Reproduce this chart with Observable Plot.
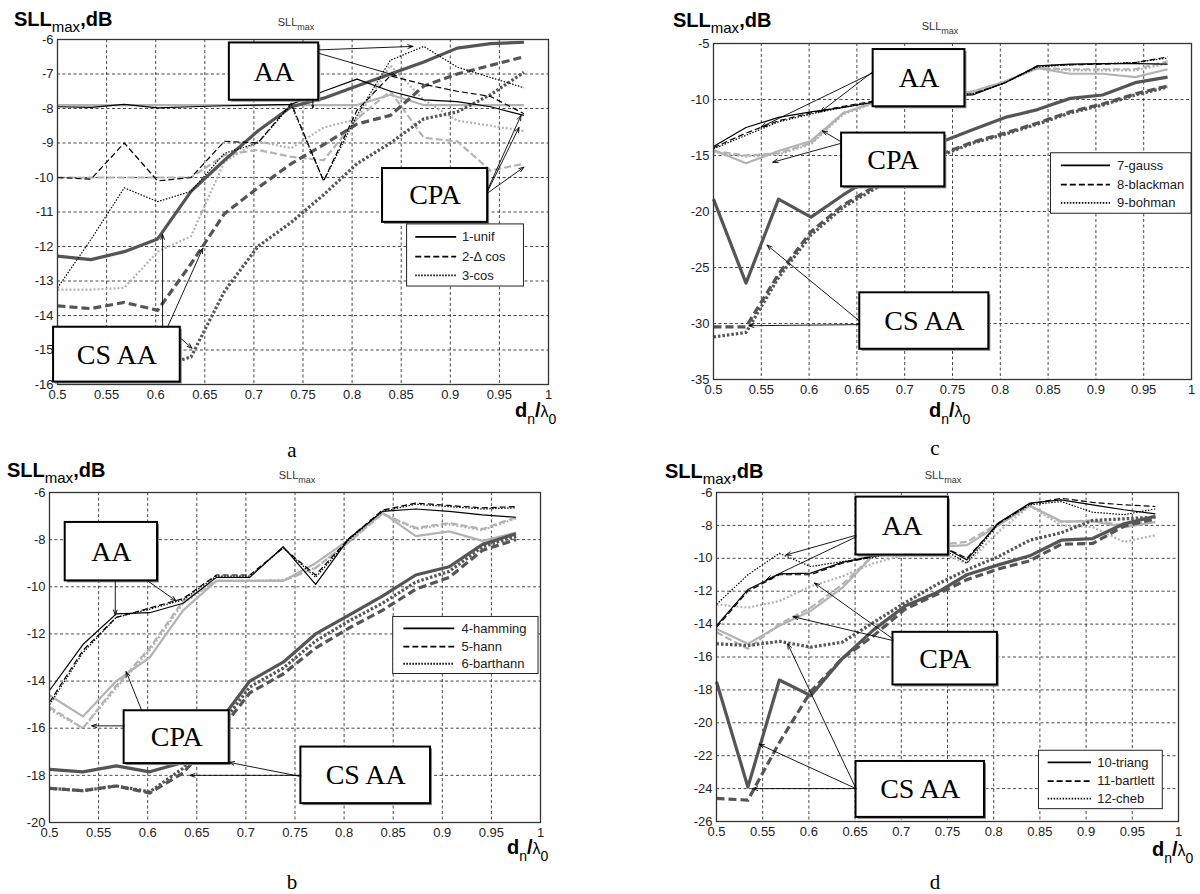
<!DOCTYPE html>
<html><head><meta charset="utf-8">
<script src="https://cdn.jsdelivr.net/npm/d3@7"></script>
<script src="https://cdn.jsdelivr.net/npm/@observablehq/plot@0.6"></script>
<style>
body{margin:0;background:#fff;}
#fig{position:relative;width:1200px;height:894px;overflow:hidden;font-family:Arial,"Liberation Sans",sans-serif;background:#fff;}
.pl{position:absolute;}
.ylab{position:absolute;font-weight:bold;font-size:20px;line-height:1;white-space:nowrap;color:#000;}
.ylab sub{font-weight:normal;font-size:15px;vertical-align:-6px;line-height:0;}
.ttl{position:absolute;font-size:11px;line-height:1;color:#333;transform:translateX(-50%);white-space:nowrap;}
.ttl sub{font-size:9px;vertical-align:-4px;line-height:0;}
.xlab{position:absolute;font-weight:bold;font-size:20px;line-height:1;white-space:nowrap;}
.xlab sub{font-weight:normal;font-size:14px;vertical-align:-7px;line-height:0;}
.xlab .lam{font-weight:normal;font-size:16px;}
.let{position:absolute;font-family:"Liberation Serif","Times New Roman",serif;font-size:21px;line-height:1;transform:translate(-50%,-50%);}
</style></head>
<body><div id="fig"></div>
<script>
// ---------- shared ----------
const X = [0.5,0.534,0.568,0.602,0.636,0.670,0.704,0.738,0.771,0.805,0.839,0.873,0.907,0.941,0.975];
const xTicks = [0.5,0.55,0.6,0.65,0.7,0.75,0.8,0.85,0.9,0.95,1];

// ---------- panel a ----------
const a_names = ["1-unif","2-\u0394 cos","3-cos"];
const a_yTicks = [-16,-15,-14,-13,-12,-11,-10,-9,-8,-7,-6];
const a_AA_1 = [-7.95,-7.97,-7.88,-7.98,-7.95,-7.92,-7.9,-7.88,-7.5,-7.15,-7.5,-7.75,-7.8,-7.95,-8.2];
const a_AA_2 = [-10.0,-10.05,-9.0,-10.1,-10.0,-8.95,-9.0,-7.85,-10.1,-8.05,-7.05,-7.3,-7.5,-7.65,-8.15];
const a_AA_3 = [-13.2,-11.8,-10.3,-10.7,-10.4,-9.3,-9.0,-7.9,-10.1,-8.2,-6.6,-6.2,-6.8,-7.1,-7.4];
const a_CPA_1 = [-7.9,-7.9,-7.9,-7.9,-7.9,-7.9,-7.9,-7.9,-7.9,-7.9,-7.6,-7.9,-7.9,-7.9,-7.9];
const a_CPA_2 = [-10.0,-10.0,-10.0,-10.0,-10.0,-9.35,-9.2,-9.4,-9.5,-8.3,-7.5,-8.85,-8.95,-9.8,-9.6];
const a_CPA_3 = [-13.25,-13.25,-13.2,-12.15,-11.7,-9.55,-8.95,-9.15,-8.55,-8.3,-6.75,-7.75,-8.35,-8.5,-8.65];
const a_CS_1 = [-12.28,-12.38,-12.15,-11.78,-10.4,-9.5,-8.65,-7.95,-7.7,-7.35,-7.0,-6.65,-6.25,-6.12,-6.08];
const a_CS_2 = [-13.72,-13.8,-13.62,-13.85,-12.5,-11.05,-10.3,-9.6,-9.05,-8.45,-8.2,-7.35,-7.0,-6.75,-6.5];
const a_CS_3 = [-15.6,-15.6,-15.5,-15.5,-15.2,-13.3,-12.0,-11.3,-10.5,-9.6,-9.0,-8.3,-8.1,-7.6,-6.95];
const a_boxLabels = ["AA","CPA","CS AA"];
const a_boxX1 = [0.675,0.831,0.496]; const a_boxX2 = [0.766,0.938,0.625];
const a_boxY1 = [-6.1,-9.74,-14.34]; const a_boxY2 = [-7.76,-11.3,-15.93];
const a_arrows = [[0.766,-6.3,0.862,-6.2],[0.766,-6.4,0.845,-7.05],[0.76,-7.76,0.76,-7.98],
  [0.938,-10.35,0.972,-8.2],[0.938,-10.4,0.97,-8.55],[0.938,-10.45,0.975,-9.7],
  [0.607,-14.34,0.607,-11.65],[0.612,-14.34,0.648,-12.05],[0.625,-14.65,0.637,-14.95]];
const a_legend = [0.856,0.975,-11.36,-13.16];

// ---------- panel c ----------
const c_names = ["7-gauss","8-blackman","9-bohman"];
const c_yTicks = [-35,-30,-25,-20,-15,-10,-5];
const c_AA_1 = [-14.2,-12.5,-11.6,-11.1,-10.7,-10.2,-9.9,-9.7,-9.6,-8.5,-7.0,-6.85,-6.8,-6.8,-6.85];
const c_AA_2 = [-14.3,-13.0,-11.9,-11.2,-10.6,-10.1,-9.8,-9.6,-9.5,-8.5,-7.0,-6.9,-6.85,-6.7,-6.2];
const c_AA_3 = [-14.4,-13.2,-12.0,-11.3,-10.7,-10.2,-9.8,-9.6,-9.5,-8.5,-7.1,-6.9,-6.8,-6.7,-6.3];
const c_CPA_1 = [-14.5,-15.7,-14.6,-13.7,-11.2,-10.2,-9.9,-9.6,-9.3,-8.4,-7.2,-7.7,-7.7,-8.0,-7.3];
const c_CPA_2 = [-14.6,-15.0,-14.8,-13.9,-11.2,-10.2,-9.9,-9.6,-9.3,-8.4,-7.2,-7.3,-7.3,-7.3,-6.6];
const c_CPA_3 = [-14.7,-15.1,-14.9,-14.0,-11.3,-10.3,-9.9,-9.6,-9.3,-8.4,-7.2,-7.4,-7.4,-7.4,-6.8];
const c_CS_1 = [-18.9,-26.4,-18.9,-20.5,-18.5,-16.7,-15.0,-13.8,-12.7,-11.6,-10.9,-9.9,-9.6,-8.5,-8.0];
const c_CS_2 = [-30.3,-30.3,-25.6,-21.8,-19.4,-17.7,-16.1,-14.9,-13.8,-13.0,-12.1,-11.1,-10.4,-9.5,-8.8];
const c_CS_3 = [-31.2,-30.8,-25.9,-22.1,-19.6,-17.9,-16.3,-15.0,-13.9,-13.1,-12.2,-11.2,-10.5,-9.6,-8.9];
const c_boxLabels = ["AA","CPA","CS AA"];
const c_boxX1 = [0.667,0.634,0.653]; const c_boxX2 = [0.763,0.742,0.788];
const c_boxY1 = [-5.54,-13.0,-27.26]; const c_boxY2 = [-10.65,-17.8,-32.3];
const c_arrows = [[0.667,-7.5,0.612,-11.1],[0.667,-7.6,0.55,-12.45],
  [0.634,-13.8,0.614,-12.8],[0.634,-13.9,0.562,-15.6],
  [0.653,-29.8,0.556,-23.0],[0.653,-30.1,0.537,-30.2]];
const c_legend = [0.853,1.0,-14.8,-20.2];

// ---------- panel b ----------
const b_names = ["4-hamming","5-hann","6-barthann"];
const b_yTicks = [-20,-18,-16,-14,-12,-10,-8,-6];
const b_AA_1 = [-14.4,-12.45,-11.15,-11.1,-10.7,-9.6,-9.6,-8.3,-9.9,-7.95,-6.8,-6.7,-6.8,-6.95,-7.05];
const b_AA_2 = [-14.9,-12.7,-11.3,-10.9,-10.5,-9.5,-9.5,-8.35,-9.5,-7.95,-6.75,-6.45,-6.55,-6.65,-6.6];
const b_AA_3 = [-15.0,-12.8,-11.3,-10.95,-10.55,-9.55,-9.55,-8.35,-9.6,-8.0,-6.8,-6.5,-6.6,-6.7,-6.65];
const b_CPA_1 = [-14.6,-15.5,-14.0,-13.0,-11.0,-9.75,-9.75,-9.75,-9.0,-8.0,-6.85,-7.85,-7.65,-8.05,-7.7];
const b_CPA_2 = [-15.1,-16.0,-14.2,-12.6,-10.6,-9.75,-9.75,-9.75,-9.2,-8.1,-6.9,-7.5,-7.3,-7.55,-7.05];
const b_CPA_3 = [-15.2,-16.0,-14.3,-12.7,-10.7,-9.75,-9.75,-9.7,-9.2,-8.1,-6.9,-7.55,-7.35,-7.6,-7.1];
const b_CS_1 = [-17.75,-17.85,-17.6,-17.85,-17.45,-15.9,-14.0,-13.2,-12.0,-11.2,-10.4,-9.5,-9.15,-8.2,-7.75];
const b_CS_2 = [-18.55,-18.65,-18.45,-18.75,-17.9,-16.3,-14.5,-13.7,-12.6,-11.75,-11.0,-10.1,-9.6,-8.45,-8.0];
const b_CS_3 = [-18.55,-18.65,-18.45,-18.7,-17.7,-16.1,-14.25,-13.45,-12.3,-11.45,-10.7,-9.8,-9.35,-8.3,-7.85];
const b_boxLabels = ["AA","CPA","CS AA"];
const b_boxX1 = [0.516,0.576,0.756]; const b_boxX2 = [0.61,0.683,0.888];
const b_boxY1 = [-7.27,-15.26,-16.8]; const b_boxY2 = [-9.75,-17.5,-19.2];
const b_arrows = [[0.567,-9.75,0.567,-11.2],[0.6,-9.75,0.629,-10.6],
  [0.594,-15.26,0.578,-13.6],[0.576,-15.9,0.543,-15.9],
  [0.756,-18.0,0.643,-18.0],[0.756,-18.05,0.683,-17.45]];
const b_legend = [0.85,0.998,-11.28,-13.7];

// ---------- panel d ----------
const d_names = ["10-triang","11-bartlett","12-cheb"];
const d_yTicks = [-26,-24,-22,-20,-18,-16,-14,-12,-10,-8,-6];
const d_AA_1 = [-14.1,-11.9,-10.95,-10.9,-10.25,-9.85,-9.5,-9.1,-10.1,-7.85,-6.65,-6.45,-6.75,-7.05,-7.3];
const d_AA_2 = [-14.2,-12.0,-11.0,-11.0,-10.3,-9.9,-9.5,-9.1,-10.0,-7.9,-6.7,-6.35,-6.6,-6.75,-6.85];
const d_AA_3 = [-12.8,-11.0,-9.7,-10.5,-10.2,-9.95,-9.5,-9.2,-10.3,-7.9,-6.75,-6.55,-7.2,-7.35,-7.0];
const d_CPA_1 = [-14.3,-15.2,-14.1,-13.2,-11.8,-9.8,-9.5,-9.3,-9.2,-8.0,-6.8,-7.75,-7.75,-8.1,-7.8];
const d_CPA_2 = [-14.5,-15.5,-14.0,-13.0,-11.6,-9.8,-9.5,-9.2,-9.0,-7.9,-6.8,-7.8,-7.7,-8.0,-7.7];
const d_CPA_3 = [-12.8,-13.0,-12.6,-11.7,-11.1,-10.3,-9.8,-9.6,-10.3,-8.4,-6.8,-8.0,-8.1,-9.0,-8.6];
const d_CS_1 = [-17.5,-23.9,-17.4,-18.35,-16.1,-14.35,-12.9,-12.1,-11.0,-10.4,-9.85,-8.9,-8.8,-7.9,-7.45];
const d_CS_2 = [-24.6,-24.7,-21.2,-18.1,-16.1,-14.7,-13.1,-12.2,-11.3,-10.65,-10.15,-9.15,-9.1,-8.05,-7.6];
const d_CS_3 = [-15.2,-15.3,-15.05,-15.4,-15.1,-13.9,-12.7,-11.6,-10.7,-9.9,-8.9,-8.45,-7.7,-7.6,-7.5];
const d_boxLabels = ["AA","CPA","CS AA"];
const d_boxX1 = [0.651,0.691,0.651]; const d_boxX2 = [0.751,0.804,0.79];
const d_boxY1 = [-6.28,-14.5,-22.35]; const d_boxY2 = [-9.8,-17.7,-25.75];
const d_arrows = [[0.651,-8.6,0.575,-9.8],[0.651,-8.7,0.554,-11.3],
  [0.691,-15.0,0.583,-13.55],[0.691,-14.9,0.606,-11.5],
  [0.651,-24.0,0.539,-24.0],[0.651,-24.0,0.546,-21.3],[0.651,-24.0,0.577,-15.2]];
const d_legend = [0.849,0.983,-21.7,-25.25];

// ---------- drawing ----------
const styles = {
  CPA: {stroke:"#b3b3b3", w:2.2, dash:["none","7,3","2,2"]},
  CS:  {stroke:"#555555", w:3.2, dash:["none","8,4","2.5,2"]},
  AA:  {stroke:"#000000", w:1.2, dash:["none","6,3","1.5,1.5"]}
};

function panel(p) {
  const marks = [
    Plot.gridX(xTicks.slice(1,-1), {stroke:"#111", strokeOpacity:0.85, strokeDasharray:"3,2.5", strokeWidth:0.9}),
    Plot.gridY(p.yTicks.slice(1,-1), {stroke:"#111", strokeOpacity:0.85, strokeDasharray:"3,2.5", strokeWidth:0.9})
  ];
  for (const kind of ["CPA","CS","AA"]) {
    p.series[kind].forEach((arr, i) => {
      const data = X.map((x, j) => ({x, y: arr[j]}));
      marks.push(Plot.line(data, {x:"x", y:"y", stroke: styles[kind].stroke, strokeWidth: styles[kind].w,
        strokeDasharray: styles[kind].dash[i], strokeLinejoin:"round", strokeLinecap:"butt"}));
    });
  }
  marks.push(Plot.frame({stroke:"#333", strokeWidth:1.3}));
  const boxes = p.boxLabels.map((label,i)=>({label, x1:p.boxX1[i], x2:p.boxX2[i], y1:p.boxY1[i], y2:p.boxY2[i]}));
  marks.push(Plot.rect(boxes, {x1:"x1", x2:"x2", y1:"y1", y2:"y2", fill:"#888", dx:2, dy:2}));
  marks.push(Plot.rect(boxes, {x1:"x1", x2:"x2", y1:"y1", y2:"y2", fill:"white", stroke:"black", strokeWidth:2}));
  marks.push(Plot.text(boxes, {x: d=>(d.x1+d.x2)/2, y: d=>(d.y1+d.y2)/2, text:"label",
    fontFamily:"Liberation Serif, Times New Roman, serif", fontSize:28, fill:"#000"}));
  marks.push(Plot.arrow(p.arrows, {x1:d=>d[0], y1:d=>d[1], x2:d=>d[2], y2:d=>d[3],
    stroke:"#000", strokeWidth:0.9, headLength:9, headAngle:40}));
  // legend
  const [lx1, lx2, ly1, ly2] = p.legend;
  const w = lx2 - lx1, h = ly1 - ly2;
  const rows = p.names.map((name,i)=>({name, i, y: ly1 - h*[0.2,0.52,0.82][i]}));
  marks.push(Plot.rect([0], {x1:lx1, x2:lx2, y1:ly1, y2:ly2, fill:"white", stroke:"#222", strokeWidth:1}));
  rows.forEach(r => {
    marks.push(Plot.link([r], {x1: lx1 + w*0.07, x2: lx1 + w*0.42, y1:"y", y2:"y", stroke:"#000",
      strokeWidth:1.8, strokeLinecap:"butt", strokeDasharray: ["none","6,3","1.5,1.5"][r.i]}));
  });
  marks.push(Plot.text(rows, {x: lx1 + w*0.47, y:"y", text:"name", textAnchor:"start",
    fontSize:13, fill:"#222", fontFamily:"Arial, Liberation Sans, sans-serif"}));

  return Plot.plot({
    width: p.width, height: p.height,
    marginLeft: p.m[0], marginRight: p.m[1], marginTop: p.m[2], marginBottom: p.m[3],
    style: {background:"transparent", fontFamily:"Arial, Liberation Sans, sans-serif", fontSize:"13px", color:"#222", overflow:"visible"},
    x: {domain:[0.5,1], ticks: xTicks, tickSize:0, tickPadding:5, label:null, tickFormat: d => String(+d.toFixed(2))},
    y: {domain:[p.yTicks[0], p.yTicks[p.yTicks.length-1]], ticks: p.yTicks, tickSize:0, tickPadding:4, label:null, tickFormat: d => String(d)},
    marks
  });
}

const fig = document.getElementById("fig");
const panels = [
  {id:"a", left:0, top:0, width:600, height:440, m:[57,52,39,56], yTicks:a_yTicks, names:a_names,
   series:{AA:[a_AA_1,a_AA_2,a_AA_3], CPA:[a_CPA_1,a_CPA_2,a_CPA_3], CS:[a_CS_1,a_CS_2,a_CS_3]},
   boxLabels:a_boxLabels, boxX1:a_boxX1, boxX2:a_boxX2, boxY1:a_boxY1, boxY2:a_boxY2, arrows:a_arrows, legend:a_legend,
   ylab:[14,9], ttl:[296,17], xlab:[515,400], letter:[292,450]},
  {id:"c", left:600, top:0, width:600, height:440, m:[113,9,43,61], yTicks:c_yTicks, names:c_names,
   series:{AA:[c_AA_1,c_AA_2,c_AA_3], CPA:[c_CPA_1,c_CPA_2,c_CPA_3], CS:[c_CS_1,c_CS_2,c_CS_3]},
   boxLabels:c_boxLabels, boxX1:c_boxX1, boxX2:c_boxX2, boxY1:c_boxY1, boxY2:c_boxY2, arrows:c_arrows, legend:c_legend,
   ylab:[673,10], ttl:[940,21], xlab:[929,400], letter:[935,448]},
  {id:"b", left:0, top:447, width:600, height:447, m:[49,60,45,72], yTicks:b_yTicks, names:b_names,
   series:{AA:[b_AA_1,b_AA_2,b_AA_3], CPA:[b_CPA_1,b_CPA_2,b_CPA_3], CS:[b_CS_1,b_CS_2,b_CS_3]},
   boxLabels:b_boxLabels, boxX1:b_boxX1, boxX2:b_boxX2, boxY1:b_boxY1, boxY2:b_boxY2, arrows:b_arrows, legend:b_legend,
   ylab:[7,460], ttl:[297,470], xlab:[507,837], letter:[292,882]},
  {id:"d", left:600, top:447, width:600, height:447, m:[116,22,45,73], yTicks:d_yTicks, names:d_names,
   series:{AA:[d_AA_1,d_AA_2,d_AA_3], CPA:[d_CPA_1,d_CPA_2,d_CPA_3], CS:[d_CS_1,d_CS_2,d_CS_3]},
   boxLabels:d_boxLabels, boxX1:d_boxX1, boxX2:d_boxX2, boxY1:d_boxY1, boxY2:d_boxY2, arrows:d_arrows, legend:d_legend,
   ylab:[665,461], ttl:[943,470], xlab:[1152,839], letter:[935,882]}
];

for (const p of panels) {
  const wrap = document.createElement("div");
  wrap.className = "pl";
  wrap.style.left = p.left + "px"; wrap.style.top = p.top + "px";
  wrap.appendChild(panel(p));
  fig.appendChild(wrap);

  const yl = document.createElement("div");
  yl.className = "ylab"; yl.style.left = p.ylab[0]+"px"; yl.style.top = p.ylab[1]+"px";
  yl.innerHTML = "SLL<sub>max</sub>,dB";
  fig.appendChild(yl);

  const tt = document.createElement("div");
  tt.className = "ttl"; tt.style.left = p.ttl[0]+"px"; tt.style.top = p.ttl[1]+"px";
  tt.innerHTML = "SLL<sub>max</sub>";
  fig.appendChild(tt);

  const xl = document.createElement("div");
  xl.className = "xlab"; xl.style.left = p.xlab[0]+"px"; xl.style.top = p.xlab[1]+"px";
  xl.innerHTML = "d<sub>n</sub>/<span class='lam'>\u03bb</span><sub>0</sub>";
  fig.appendChild(xl);

  const le = document.createElement("div");
  le.className = "let"; le.style.left = p.letter[0]+"px"; le.style.top = p.letter[1]+"px";
  le.textContent = p.id;
  fig.appendChild(le);
}
</script>
</body></html>
